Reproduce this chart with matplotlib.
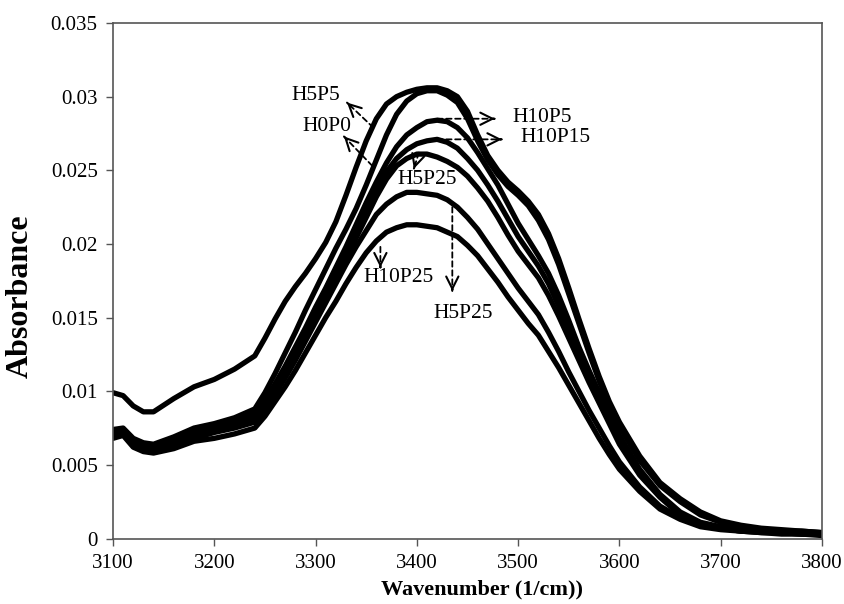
import matplotlib
matplotlib.use("Agg")
import matplotlib.pyplot as plt

plt.rcParams['font.family'] = ['Liberation Serif', 'DejaVu Serif']

# wavenumber grid (1/cm): coarse at the ends, 10 cm-1 steps across the band
wn = [3100, 3110, 3120, 3130, 3140, 3160, 3180, 3200, 3220,
      3240, 3250, 3260, 3270, 3280, 3290, 3300, 3310, 3320, 3330, 3340, 3350,
      3360, 3370, 3380, 3390, 3400, 3410, 3420, 3430, 3440, 3450, 3460, 3470,
      3480, 3490, 3500, 3510, 3520, 3530, 3540, 3550, 3560, 3570, 3580, 3590,
      3600, 3620, 3640, 3660, 3680, 3700, 3720, 3740, 3760, 3780, 3800]

# absorbance
abs_a = [0.0099, 0.0097, 0.0090, 0.0086, 0.0086, 0.0095, 0.0103, 0.0108, 0.0115,
         0.0124, 0.0136, 0.0149, 0.0161, 0.0171, 0.0180, 0.0190, 0.0201, 0.0215, 0.0233, 0.0252, 0.0270,
         0.0285, 0.0295, 0.0300, 0.0303, 0.0305, 0.0306, 0.0306, 0.0304, 0.0300, 0.0290, 0.0274, 0.0260,
         0.0250, 0.0242, 0.0236, 0.0229, 0.0220, 0.0207, 0.0190, 0.0170, 0.0149, 0.0129, 0.0110, 0.0093,
         0.0079, 0.0056, 0.0038, 0.0027, 0.0018, 0.0012, 0.0009, 0.0007, 0.0006, 0.0005, 0.0004]
abs_b = [0.0074, 0.0075, 0.0068, 0.0065, 0.0064, 0.0069, 0.0075, 0.0078, 0.0082,
         0.0088, 0.0099, 0.0112, 0.0126, 0.0140, 0.0155, 0.0169, 0.0183, 0.0197, 0.0210, 0.0224, 0.0240,
         0.0257, 0.0274, 0.0288, 0.0297, 0.0302, 0.0304, 0.0304, 0.0301, 0.0296, 0.0285, 0.0270, 0.0257,
         0.0247, 0.0239, 0.0233, 0.0226, 0.0216, 0.0203, 0.0186, 0.0166, 0.0146, 0.0126, 0.0107, 0.0090,
         0.0076, 0.0053, 0.0036, 0.0025, 0.0016, 0.0011, 0.0008, 0.0006, 0.0005, 0.0005, 0.0004]
abs_c = [0.0072, 0.0074, 0.0066, 0.0063, 0.0062, 0.0067, 0.0072, 0.0076, 0.0080,
         0.0085, 0.0094, 0.0105, 0.0117, 0.0130, 0.0143, 0.0157, 0.0170, 0.0184, 0.0198, 0.0213, 0.0228,
         0.0242, 0.0255, 0.0266, 0.0274, 0.0279, 0.0283, 0.0284, 0.0283, 0.0279, 0.0272, 0.0262, 0.0251,
         0.0240, 0.0227, 0.0214, 0.0203, 0.0192, 0.0180, 0.0165, 0.0148, 0.0130, 0.0114, 0.0099, 0.0084,
         0.0070, 0.0047, 0.0030, 0.0018, 0.0011, 0.0008, 0.0006, 0.0005, 0.0005, 0.0004, 0.0004]
abs_d = [0.0071, 0.0073, 0.0065, 0.0062, 0.0061, 0.0066, 0.0071, 0.0075, 0.0078,
         0.0083, 0.0092, 0.0102, 0.0114, 0.0127, 0.0140, 0.0153, 0.0166, 0.0180, 0.0194, 0.0208, 0.0223,
         0.0237, 0.0249, 0.0258, 0.0264, 0.0268, 0.0270, 0.0271, 0.0269, 0.0265, 0.0258, 0.0250, 0.0240,
         0.0229, 0.0217, 0.0205, 0.0195, 0.0185, 0.0173, 0.0158, 0.0142, 0.0126, 0.0111, 0.0096, 0.0081,
         0.0067, 0.0045, 0.0029, 0.0017, 0.0010, 0.0007, 0.0006, 0.0005, 0.0004, 0.0004, 0.0003]
abs_e = [0.0070, 0.0072, 0.0064, 0.0061, 0.0060, 0.0064, 0.0069, 0.0073, 0.0077,
         0.0081, 0.0090, 0.0100, 0.0112, 0.0124, 0.0137, 0.0150, 0.0163, 0.0177, 0.0191, 0.0204, 0.0218,
         0.0232, 0.0244, 0.0253, 0.0258, 0.0261, 0.0261, 0.0259, 0.0256, 0.0252, 0.0246, 0.0238, 0.0229,
         0.0218, 0.0206, 0.0195, 0.0186, 0.0177, 0.0165, 0.0151, 0.0136, 0.0121, 0.0106, 0.0092, 0.0078,
         0.0064, 0.0043, 0.0028, 0.0016, 0.0010, 0.0007, 0.0005, 0.0005, 0.0004, 0.0003, 0.0003]
abs_f = [0.0069, 0.0071, 0.0063, 0.0060, 0.0059, 0.0063, 0.0068, 0.0072, 0.0075,
         0.0079, 0.0088, 0.0098, 0.0109, 0.0121, 0.0134, 0.0147, 0.0160, 0.0173, 0.0186, 0.0198, 0.0209,
         0.0220, 0.0227, 0.0232, 0.0235, 0.0235, 0.0234, 0.0233, 0.0230, 0.0225, 0.0218, 0.0210, 0.0200,
         0.0190, 0.0180, 0.0170, 0.0161, 0.0152, 0.0140, 0.0127, 0.0113, 0.0100, 0.0087, 0.0075, 0.0063,
         0.0052, 0.0035, 0.0022, 0.0014, 0.0009, 0.0007, 0.0005, 0.0004, 0.0004, 0.0003, 0.0003]
abs_g = [0.0068, 0.0070, 0.0062, 0.0059, 0.0058, 0.0061, 0.0066, 0.0068, 0.0071,
         0.0075, 0.0083, 0.0093, 0.0103, 0.0114, 0.0126, 0.0138, 0.0150, 0.0161, 0.0173, 0.0184, 0.0194,
         0.0202, 0.0208, 0.0211, 0.0213, 0.0213, 0.0212, 0.0211, 0.0208, 0.0205, 0.0199, 0.0192, 0.0183,
         0.0174, 0.0164, 0.0155, 0.0146, 0.0138, 0.0127, 0.0116, 0.0104, 0.0092, 0.0080, 0.0068, 0.0057,
         0.0047, 0.0032, 0.0020, 0.0013, 0.0008, 0.0006, 0.0005, 0.0004, 0.0003, 0.0003, 0.0002]
series = [abs_a, abs_b, abs_c, abs_d, abs_e, abs_f, abs_g]

xticks = [3100, 3200, 3300, 3400, 3500, 3600, 3700, 3800]
yticks = [0, 0.005, 0.01, 0.015, 0.02, 0.025, 0.03, 0.035]
ytick_labels = ["0", "0.005", "0.01", "0.015", "0.02", "0.025", "0.03", "0.035"]

# annotations: label, text position, arrow start (on curve), arrow end
ann_labels = ["H5P5", "H0P0", "H10P5", "H10P15", "H5P25", "H5P25", "H10P25"]
ann_text = [(3300, 0.0301), (3311, 0.0280), (3524, 0.0286), (3537, 0.0272),
            (3410, 0.0244), (3446, 0.0153), (3382, 0.0177)]
ann_tail = [(3357, 0.0279), (3356, 0.0253), (3420, 0.0285), (3420, 0.0271),
            (3402, 0.0262), (3435, 0.0225), (3364, 0.0198)]
ann_head = [(3331, 0.0296), (3328, 0.0273), (3477, 0.0285), (3484, 0.0271),
            (3397, 0.0251), (3435, 0.0168), (3364, 0.0184)]

fig = plt.figure(figsize=(8.45, 6.04), dpi=100)
ax = fig.add_axes([113 / 845, 65.5 / 604, 709 / 845, 515.5 / 604])

for s in series:
    ax.plot(wn, s, color="black", lw=3.8, solid_capstyle="round", solid_joinstyle="round")

for lab, tp, tail, head in zip(ann_labels, ann_text, ann_tail, ann_head):
    ax.text(tp[0], tp[1], lab, fontsize=15.5, ha="center", va="center")
    ax.annotate("", xy=head, xytext=tail,
                arrowprops=dict(arrowstyle="-", linestyle=(0, (3, 2)), lw=1.3,
                                color="black", shrinkA=0, shrinkB=0))
    dx = head[0] - tail[0]
    dy = head[1] - tail[1]
    ax.annotate("", xy=head, xytext=(head[0] - dx * 0.02, head[1] - dy * 0.02),
                arrowprops=dict(arrowstyle="->", lw=1.5, color="black",
                                mutation_scale=22, shrinkA=0, shrinkB=0))

ax.set_xlim(3100, 3800)
ax.set_ylim(0, 0.035)
ax.set_xticks(xticks)
ax.set_yticks(yticks)
ax.set_yticklabels(ytick_labels)
ax.tick_params(labelsize=15, length=5, width=1, color="#555555", pad=6)
for sp in ax.spines.values():
    sp.set_color("#555555")
    sp.set_linewidth(1.2)

ax.set_xlabel("Wavenumber (1/cm))", fontsize=16, fontweight="bold")
ax.set_ylabel("Absorbance", fontsize=23, fontweight="bold")
ax.xaxis.set_label_coords(0.52, -0.08)
ax.yaxis.set_label_coords(-0.11, 0.47)

fig.savefig("out.png", dpi=100)
